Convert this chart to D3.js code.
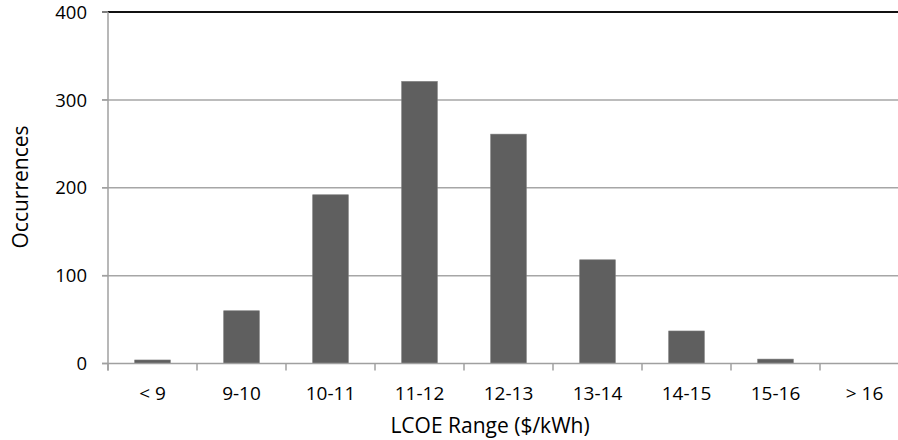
<!DOCTYPE html>
<html>
<head>
<meta charset="utf-8">
<script src="https://cdn.jsdelivr.net/npm/d3@7"></script>
<style>
  html, body { margin: 0; padding: 0; background: #fff; }
  svg { display: block; font-family: "Open Sans", sans-serif; }
</style>
</head>
<body>
<svg id="chart" width="898" height="440"></svg>
<script>
const categories = ["< 9", "9-10", "10-11", "11-12", "12-13", "13-14", "14-15", "15-16", "> 16"];
const occurrences = [4, 60, 192, 321, 261, 118, 37, 5, 0];
const yTicks = [0, 100, 200, 300, 400];
const yTitle = "Occurrences";
const xTitle = "LCOE Range ($/kWh)";

(function () {
const svg = d3.select("#chart");
const mLeft = 108, mRight = 909, mTop = 12, mBottom = 363.5;

const x = d3.scaleBand().domain(categories).range([mLeft, mRight]).paddingInner(0.6).paddingOuter(0.3);
const xEdge = d3.scaleLinear().domain([0, categories.length]).range([mLeft, mRight]);
const y = d3.scaleLinear().domain([0, 400]).range([mBottom, mTop]);

// gridlines
svg.append("g").selectAll("line").data(yTicks.filter(d => d > 0 && d < 400)).join("line")
  .attr("x1", mLeft - 6).attr("x2", 898)
  .attr("y1", d => y(d)).attr("y2", d => y(d))
  .attr("stroke", "#a6a6a6").attr("stroke-width", 1.5);

// bars
svg.append("g").selectAll("rect").data(categories).join("rect")
  .attr("x", d => x(d))
  .attr("width", x.bandwidth())
  .attr("y", (d, i) => y(occurrences[i]))
  .attr("height", (d, i) => mBottom - y(occurrences[i]))
  .attr("fill", "#5f5f5f")
  .attr("stroke", "#7a7a7a").attr("stroke-width", 0.6);

// top line (400)
svg.append("line")
  .attr("x1", mLeft - 6).attr("x2", 898)
  .attr("y1", y(400)).attr("y2", y(400))
  .attr("stroke", "#111").attr("stroke-width", 2);

// y axis line
svg.append("line")
  .attr("x1", mLeft).attr("x2", mLeft)
  .attr("y1", mTop).attr("y2", mBottom + 7)
  .attr("stroke", "#a0a0a0").attr("stroke-width", 1.5);

// x axis line
svg.append("line")
  .attr("x1", mLeft - 6).attr("x2", 898)
  .attr("y1", mBottom).attr("y2", mBottom)
  .attr("stroke", "#a0a0a0").attr("stroke-width", 1.5);

// x ticks at category edges
svg.append("g").selectAll("line").data(d3.range(categories.length + 1)).join("line")
  .attr("x1", d => xEdge(d)).attr("x2", d => xEdge(d))
  .attr("y1", mBottom).attr("y2", mBottom + 7)
  .attr("stroke", "#a0a0a0").attr("stroke-width", 1.5);

// y tick marks
svg.append("g").selectAll("line").data(yTicks).join("line")
  .attr("x1", mLeft - 6).attr("x2", mLeft)
  .attr("y1", d => y(d)).attr("y2", d => y(d))
  .attr("stroke", "#a0a0a0").attr("stroke-width", 1.5);

// y tick labels
svg.append("g").selectAll("text").data(yTicks).join("text")
  .attr("x", 87).attr("y", d => y(d))
  .attr("dy", "0.36em")
  .attr("text-anchor", "end")
  .attr("font-size", 18.5).attr("fill", "#000")
  .text(d => d);

// x tick labels
svg.append("g").selectAll("text").data(categories).join("text")
  .attr("x", d => x(d) + x.bandwidth() / 2)
  .attr("y", 400)
  .attr("text-anchor", "middle")
  .attr("font-size", 19).attr("fill", "#000")
  .text(d => d);

// axis titles
svg.append("text")
  .attr("x", 490).attr("y", 433)
  .attr("text-anchor", "middle")
  .attr("font-size", 21).attr("fill", "#000")
  .text(xTitle);

svg.append("text")
  .attr("transform", "translate(28,187) rotate(-90)")
  .attr("text-anchor", "middle")
  .attr("font-size", 21).attr("fill", "#000")
  .text(yTitle);
})();
</script>
</body>
</html>
